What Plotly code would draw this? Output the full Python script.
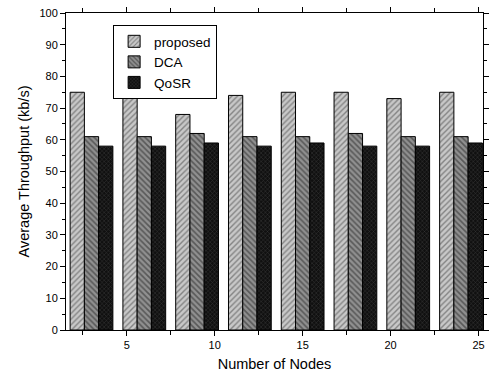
import plotly.graph_objects as go

nodes = [3, 6, 9, 12, 15, 18, 21, 24]
proposed = [75, 75, 68, 74, 75, 75, 73, 75]
dca = [61, 61, 62, 61, 61, 62, 61, 61]
qosr = [58, 58, 59, 58, 59, 58, 58, 59]

x_ticks = [5, 10, 15, 20, 25]
y_ticks = list(range(0, 101, 10))

fig = go.Figure()
fig.add_trace(go.Bar(x=nodes, y=proposed, name="proposed",
                     marker=dict(color="#c8c8c8", line=dict(color="black", width=1),
                                 pattern=dict(shape="/", fgcolor="#404040", bgcolor="#c8c8c8", size=4, solidity=0.35))))
fig.add_trace(go.Bar(x=nodes, y=dca, name="DCA",
                     marker=dict(color="#808080", line=dict(color="black", width=1),
                                 pattern=dict(shape="\\", fgcolor="#202020", bgcolor="#909090", size=4, solidity=0.4))))
fig.add_trace(go.Bar(x=nodes, y=qosr, name="QoSR",
                     marker=dict(color="#202020", line=dict(color="black", width=1),
                                 pattern=dict(shape="x", fgcolor="#606060", bgcolor="#101010", size=3, solidity=0.3))))

axis_common = dict(showline=True, linecolor="black", linewidth=1, mirror="allticks",
                   ticks="outside", ticklen=5, tickcolor="black", showgrid=False, zeroline=False,
                   tickfont=dict(size=11, color="black"))

fig.update_layout(
    width=495, height=378,
    margin=dict(l=66, r=6, t=13, b=48),
    paper_bgcolor="white", plot_bgcolor="white",
    font=dict(family="Liberation Sans, Arial, sans-serif", color="black"),
    barmode="group", bargap=0.19, bargroupgap=0,
    showlegend=True,
    legend=dict(x=0.113, y=0.962, xanchor="left", yanchor="top",
                bordercolor="black", borderwidth=1, bgcolor="white",
                font=dict(size=13.5), tracegroupgap=0, itemwidth=30),
    xaxis=dict(range=[1.55, 25.25], tickvals=x_ticks,
               minor=dict(dtick=2.5, tick0=0, ticks="outside", ticklen=4, tickcolor="black"),
               title=dict(text="Number of Nodes", font=dict(size=14.5), standoff=8),
               **axis_common),
    yaxis=dict(range=[0, 100], tickvals=y_ticks,
               minor=dict(dtick=5, tick0=0, ticks="outside", ticklen=3, tickcolor="black"),
               title=dict(text="Average Throughput (kb/s)", font=dict(size=14.5), standoff=6),
               **axis_common),
)

fig.write_html("out.html")
